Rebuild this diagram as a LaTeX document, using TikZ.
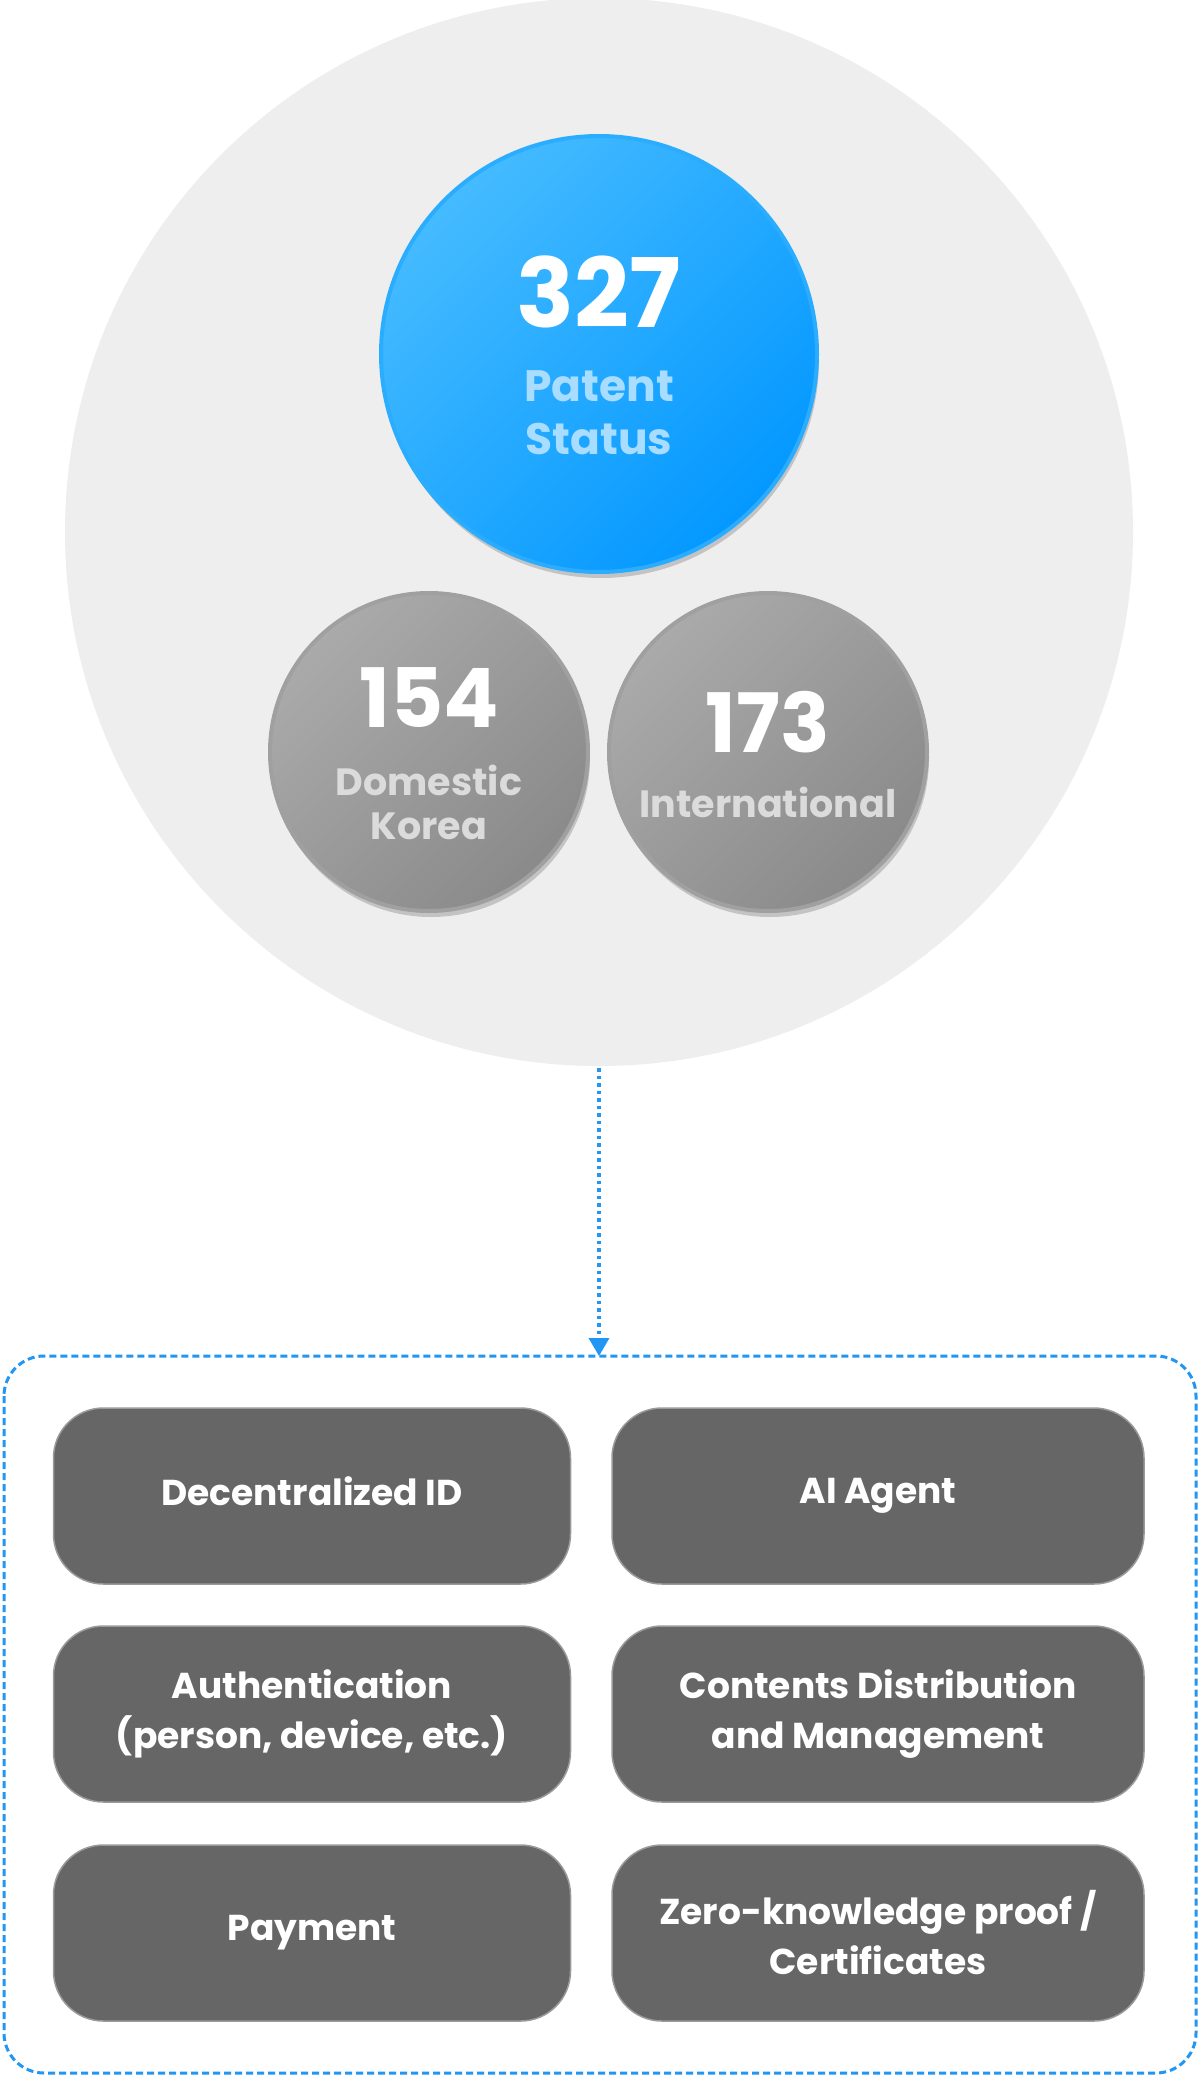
\documentclass[tikz,border=0pt]{standalone}
\usepackage{fontspec}
\setmainfont{Poppins}
\usetikzlibrary{arrows.meta,shadows}
\definecolor{bggray}{HTML}{EEEEEE}
\definecolor{blueA}{HTML}{45BBFF}
\definecolor{blueB}{HTML}{0498FF}
\definecolor{bluetxt}{HTML}{A8DDFF}
\definecolor{grayA}{HTML}{AAAAAA}
\definecolor{grayB}{HTML}{8A8A8A}
\definecolor{boxfill}{HTML}{666666}
\definecolor{boxline}{HTML}{9A9A9A}
\definecolor{linkblue}{HTML}{2196F3}
\tikzset{
  featbox/.style={draw=boxline,line width=1.5pt,fill=boxfill,rounded corners=50pt,minimum width=517pt,minimum height=176pt,text=white,align=center,font=\fontsize{36}{50}\selectfont\bfseries},
  wide/.style={minimum width=532pt},
  bigcirc/.style={circle,draw=#1,line width=4pt,drop shadow={shadow xshift=2pt,shadow yshift=-6pt,fill=black,opacity=0.18}},
}
\begin{document}
\begin{tikzpicture}[x=1pt,y=-1pt]
\useasboundingbox (0,0) rectangle (1200,2079);
\fill[white] (0,0) rectangle (1200,2079);
\node[circle,fill=bggray,minimum size=1068pt,inner sep=0] (bg) at (599,532) {};
\node[bigcirc=blueA!60!blueB,minimum size=436pt,inner sep=0,left color=blueA,right color=blueB,shading angle=45] (blue) at (599,354) {};
\node[bigcirc=grayA!70!grayB,minimum size=318pt,inner sep=0,left color=grayA,right color=grayB,shading angle=45] (dom) at (429,752) {};
\node[bigcirc=grayA!70!grayB,minimum size=318pt,inner sep=0,left color=grayA,right color=grayB,shading angle=45] (intl) at (768,752) {};
\node[text=white,font=\fontsize{96}{96}\selectfont\bfseries] (n327) at (599,292) {327};
\node[text=bluetxt,align=center,font=\fontsize{44}{53}\selectfont\bfseries] (pt) at (599,413) {Patent\\Status};
\node[text=white,font=\fontsize{82}{82}\selectfont\bfseries] (n154) at (429,698) {154};
\node[text=black!14,align=center,font=\fontsize{38}{44}\selectfont\bfseries] (dk) at (429,802) {Domestic\\Korea};
\node[text=white,font=\fontsize{82}{82}\selectfont\bfseries] (n173) at (768,722) {173};
\node[text=black!14,font=\fontsize{38}{44}\selectfont\bfseries] (it) at (768,802) {International};
\coordinate (top) at (599,1068);
\coordinate (tip) at (599,1356);
\draw[linkblue,line width=3.5pt,dash pattern=on 3.5pt off 4pt,-{Triangle[width=20pt,length=18pt]}] (top) -- (tip);
\draw[linkblue,line width=3pt,dash pattern=on 7pt off 4pt,rounded corners=40pt] (4,1356) rectangle (1196,2073);
\node[featbox] (did) at (312,1496) {\raisebox{-6pt}{Decentralized ID\vphantom{g}}};
\node[featbox,wide] (ai) at (878,1496) {\raisebox{-6pt}{AI Agent}};
\node[featbox] (auth) at (312,1714) {Authentication\\(person, device, etc.)};
\node[featbox,wide] (cdm) at (878,1714) {Contents Distribution\\and Management};
\node[featbox] (pay) at (312,1933) {\raisebox{-6pt}{Payment}};
\node[featbox,wide] (zkp) at (878,1933) {Zero-knowledge proof /\\Certificates};
\end{tikzpicture}
\end{document}
